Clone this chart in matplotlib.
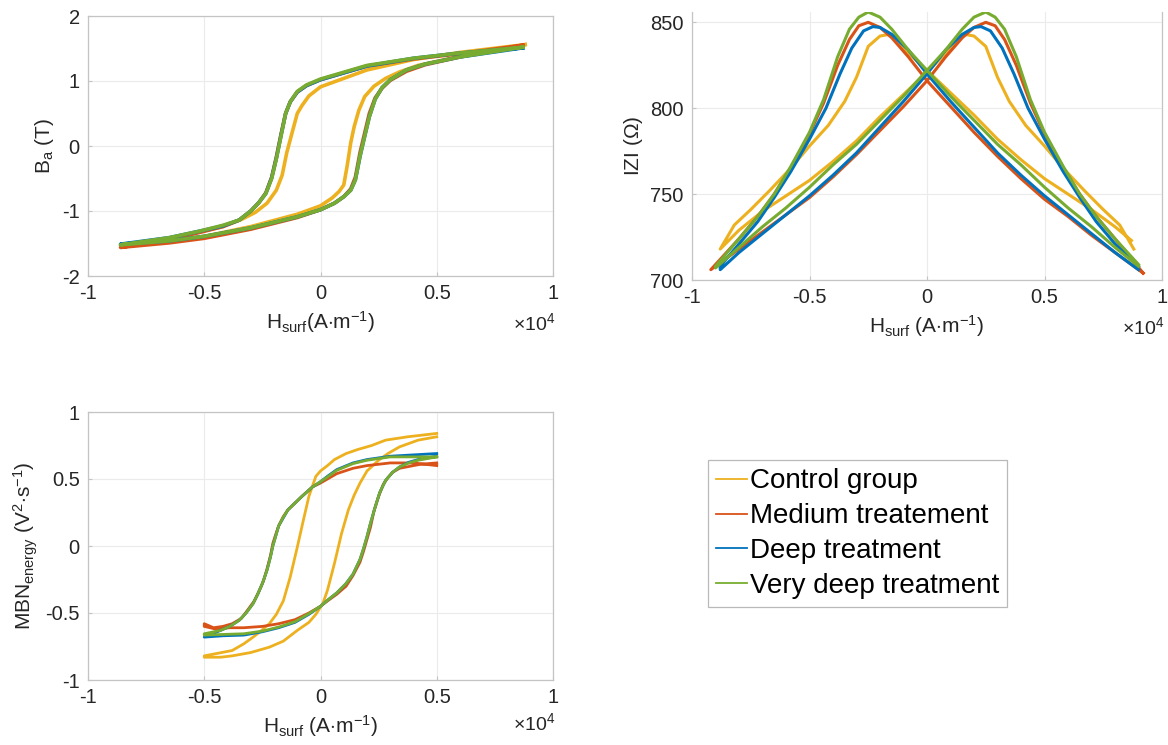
import numpy as np
import matplotlib.pyplot as plt
from matplotlib.ticker import FuncFormatter

plt.rcParams['font.family'] = ['Liberation Sans', 'DejaVu Sans']
plt.rcParams['mathtext.fontset'] = 'custom'
plt.rcParams['mathtext.rm'] = 'Liberation Sans'
plt.rcParams['mathtext.it'] = 'Liberation Sans'

names = ['Control group', 'Medium treatement', 'Deep treatment', 'Very deep treatment']
colors = ['#EDB120', '#D95319', '#0072BD', '#77AC30']

# ---- B(H) hysteresis, H in A/m, B in T ----
bh_ctrl_desc_h = [8800, 6000, 4000, 2000, 0, -500, -800, -1000, -1150, -1300, -1450, -1650, -1900, -2300, -2800, -3400, -4200, -5200, -6500, -8600]
bh_ctrl_desc_b = [1.56, 1.44, 1.33, 1.17, 0.91, 0.77, 0.62, 0.50, 0.30, 0.10, -0.10, -0.45, -0.68, -0.88, -1.02, -1.13, -1.24, -1.32, -1.42, -1.53]
bh_ctrl_asc_h = [-8600, -6500, -5000, -3000, -1000, 0, 500, 800, 1000, 1150, 1300, 1450, 1650, 1900, 2300, 2800, 3400, 4200, 6000, 8800]
bh_ctrl_asc_b = [-1.53, -1.46, -1.39, -1.24, -1.05, -0.92, -0.80, -0.70, -0.60, -0.30, 0.05, 0.30, 0.55, 0.76, 0.92, 1.04, 1.14, 1.24, 1.38, 1.56]

bh_med_desc_h = [8700, 6000, 4000, 2000, 0, -600, -1000, -1300, -1500, -1700, -1900, -2100, -2350, -2650, -3000, -3500, -4200, -5200, -6500, -8600]
bh_med_desc_b = [1.55, 1.42, 1.34, 1.23, 1.02, 0.93, 0.83, 0.68, 0.50, 0.18, -0.17, -0.48, -0.72, -0.87, -1.00, -1.14, -1.24, -1.33, -1.44, -1.56]
bh_med_asc_h = [-8600, -6500, -5000, -3000, -1000, 0, 600, 1000, 1300, 1500, 1700, 1900, 2100, 2350, 2650, 3000, 3700, 4500, 6000, 8700]
bh_med_asc_b = [-1.56, -1.49, -1.42, -1.28, -1.10, -0.98, -0.88, -0.78, -0.66, -0.48, -0.10, 0.20, 0.50, 0.74, 0.89, 1.01, 1.15, 1.25, 1.37, 1.55]

bh_deep_desc_h = [8700, 6000, 4000, 2000, 0, -600, -1000, -1300, -1500, -1700, -1900, -2100, -2350, -2650, -3000, -3500, -4200, -5200, -6500, -8600]
bh_deep_desc_b = [1.51, 1.43, 1.35, 1.23, 1.02, 0.93, 0.83, 0.68, 0.50, 0.16, -0.19, -0.49, -0.73, -0.87, -1.00, -1.14, -1.23, -1.31, -1.41, -1.51]
bh_deep_asc_h = [-8600, -6500, -5000, -3000, -1000, 0, 600, 1000, 1300, 1500, 1700, 1900, 2100, 2350, 2650, 3000, 3700, 4500, 6000, 8700]
bh_deep_asc_b = [-1.51, -1.46, -1.39, -1.26, -1.09, -0.98, -0.88, -0.78, -0.68, -0.52, -0.16, 0.15, 0.45, 0.72, 0.90, 1.02, 1.17, 1.26, 1.37, 1.51]

bh_vdeep_desc_h = [8700, 6000, 4000, 2000, 0, -600, -1000, -1300, -1500, -1700, -1900, -2100, -2350, -2650, -3000, -3500, -4200, -5200, -6500, -8600]
bh_vdeep_desc_b = [1.52, 1.43, 1.35, 1.24, 1.03, 0.94, 0.84, 0.68, 0.50, 0.15, -0.20, -0.50, -0.73, -0.87, -1.00, -1.14, -1.22, -1.31, -1.41, -1.52]
bh_vdeep_asc_h = [-8600, -6500, -5000, -3000, -1000, 0, 600, 1000, 1300, 1500, 1700, 1900, 2100, 2350, 2650, 3000, 3700, 4500, 6000, 8700]
bh_vdeep_asc_b = [-1.52, -1.46, -1.39, -1.26, -1.09, -0.98, -0.88, -0.78, -0.68, -0.52, -0.15, 0.15, 0.45, 0.72, 0.90, 1.02, 1.17, 1.26, 1.37, 1.52]

# ---- |Z|(H), H in A/m, |Z| in ohm ----
z_ctrl_desc_h = [8700, 8000, 7000, 6000, 5000, 4000, 3000, 2000, 1000, 0, -800, -1300, -1600, -2000, -2500, -3000, -3500, -4200, -5000, -5800, -6700, -7500, -8200, -8800]
z_ctrl_desc_z = [723, 731, 741, 750, 759, 770, 782, 796, 809, 822, 832, 840, 843, 842, 836, 818, 804, 790, 778, 765, 752, 741, 732, 718]
z_ctrl_asc_h = [-8800, -8000, -7000, -6000, -5000, -4000, -3000, -2000, -1000, 0, 800, 1300, 1600, 2000, 2500, 3000, 3500, 4200, 5000, 5800, 6700, 7500, 8200, 8800]
z_ctrl_asc_z = [718, 729, 740, 749, 758, 769, 781, 795, 808, 821, 832, 840, 843, 842, 836, 818, 804, 790, 778, 765, 752, 741, 732, 718]

z_med_desc_h = [9200, 8000, 7000, 6000, 5000, 4000, 3000, 2000, 1000, 0, -800, -1500, -2000, -2500, -2900, -3300, -3800, -4400, -5000, -5800, -6500, -7200, -8000, -9200]
z_med_desc_z = [704, 716, 726, 737, 747, 759, 772, 786, 801, 816, 830, 841, 847, 850, 848, 840, 825, 803, 785, 765, 750, 737, 724, 706]
z_med_asc_h = [-9200, -8000, -7000, -6000, -5000, -4000, -3000, -2000, -1000, 0, 800, 1500, 2000, 2500, 2900, 3300, 3800, 4400, 5000, 5800, 6500, 7200, 8000, 9200]
z_med_asc_z = [706, 718, 728, 738, 748, 760, 773, 787, 801, 816, 830, 841, 847, 850, 848, 840, 825, 803, 785, 765, 750, 737, 724, 704]

z_deep_desc_h = [9000, 8000, 7000, 6000, 5000, 4000, 3000, 2000, 1000, 0, -800, -1500, -2000, -2300, -2700, -3200, -3700, -4300, -5000, -5800, -6500, -7200, -8000, -8800]
z_deep_desc_z = [706, 716, 727, 738, 749, 761, 774, 789, 804, 820, 834, 843, 847, 847.5, 845, 835, 820, 800, 782, 763, 748, 734, 721, 708]
z_deep_asc_h = [-8800, -8000, -7000, -6000, -5000, -4000, -3000, -2000, -1000, 0, 800, 1500, 2000, 2300, 2700, 3200, 3700, 4300, 5000, 5800, 6500, 7200, 8000, 9000]
z_deep_asc_z = [706, 716, 727, 738, 749, 761, 774, 789, 804, 820, 834, 843, 847, 847.5, 845, 835, 820, 800, 782, 763, 748, 734, 721, 708]

z_vdeep_desc_h = [9000, 8000, 7000, 6000, 5000, 4000, 3000, 2000, 1000, 0, -800, -1500, -2000, -2500, -2900, -3300, -3800, -4400, -5000, -5800, -6500, -7200, -8000, -9000]
z_vdeep_desc_z = [708, 719, 731, 742, 754, 767, 779, 793, 807, 822, 834, 846, 853, 856, 853, 846, 830, 805, 786, 766, 750, 737, 724, 708]
z_vdeep_asc_h = [-9000, -8000, -7000, -6000, -5000, -4000, -3000, -2000, -1000, 0, 800, 1500, 2000, 2500, 2900, 3300, 3800, 4400, 5000, 5800, 6500, 7200, 8000, 9000]
z_vdeep_asc_z = [707, 719, 731, 742, 754, 767, 779, 793, 807, 822, 834, 846, 853, 856, 853, 846, 830, 805, 786, 766, 750, 737, 724, 709]

# ---- MBN energy(H), H in A/m, MBN in V^2/s ----
mbn_ctrl_desc_h = [5000, 3750, 2800, 2200, 1600, 1100, 600, 300, 0, -200, -500, -740, -1000, -1300, -1600, -1900, -2200, -2600, -2900, -3300, -3800, -4400, -5000]
mbn_ctrl_desc_e = [0.84, 0.815, 0.79, 0.75, 0.72, 0.69, 0.645, 0.60, 0.56, 0.52, 0.37, 0.19, -0.01, -0.23, -0.41, -0.51, -0.58, -0.64, -0.68, -0.73, -0.78, -0.80, -0.82]
mbn_ctrl_asc_h = [-5000, -4300, -3800, -3000, -2200, -1600, -1000, -500, -200, 100, 300, 600, 900, 1200, 1450, 1700, 2000, 2500, 2900, 3400, 4200, 5000]
mbn_ctrl_asc_e = [-0.83, -0.83, -0.82, -0.795, -0.755, -0.71, -0.63, -0.57, -0.51, -0.43, -0.33, -0.13, 0.09, 0.27, 0.38, 0.47, 0.56, 0.64, 0.69, 0.74, 0.79, 0.815]

mbn_med_desc_h = [5000, 4000, 3000, 2000, 1400, 700, 300, 0, -350, -800, -1100, -1400, -1600, -1800, -1900, -2050, -2150, -2300, -2450, -2650, -2850, -3100, -3400, -3800, -4200, -4600, -5000]
mbn_med_desc_e = [0.60, 0.62, 0.62, 0.60, 0.58, 0.54, 0.50, 0.47, 0.44, 0.37, 0.32, 0.27, 0.22, 0.15, 0.10, 0.02, -0.07, -0.17, -0.26, -0.34, -0.41, -0.47, -0.54, -0.58, -0.60, -0.61, -0.58]
mbn_med_asc_h = [-5000, -4500, -3900, -3300, -2500, -1800, -1100, -500, 0, 300, 700, 1100, 1400, 1700, 1850, 2000, 2150, 2300, 2500, 2700, 2900, 3100, 3400, 3700, 4300, 5000]
mbn_med_asc_e = [-0.60, -0.62, -0.61, -0.61, -0.60, -0.58, -0.55, -0.50, -0.45, -0.41, -0.36, -0.30, -0.22, -0.12, -0.04, 0.05, 0.14, 0.26, 0.37, 0.46, 0.51, 0.55, 0.58, 0.59, 0.61, 0.62]

mbn_deep_desc_h = [5000, 4000, 3000, 2000, 1400, 700, 300, 0, -350, -800, -1100, -1400, -1600, -1800, -1900, -2050, -2150, -2300, -2500, -2700, -2900, -3200, -3500, -3900, -4300, -5000]
mbn_deep_desc_e = [0.69, 0.68, 0.67, 0.645, 0.62, 0.57, 0.52, 0.48, 0.44, 0.37, 0.32, 0.27, 0.21, 0.15, 0.09, 0.0, -0.08, -0.18, -0.28, -0.36, -0.43, -0.50, -0.555, -0.60, -0.63, -0.68]
mbn_deep_asc_h = [-5000, -4200, -3300, -2500, -1800, -1100, -500, 0, 300, 700, 1100, 1400, 1700, 1850, 2000, 2150, 2350, 2550, 2800, 3100, 3400, 3800, 4200, 5000]
mbn_deep_asc_e = [-0.68, -0.67, -0.665, -0.64, -0.61, -0.57, -0.51, -0.45, -0.405, -0.35, -0.28, -0.21, -0.10, -0.02, 0.07, 0.17, 0.29, 0.40, 0.49, 0.55, 0.59, 0.625, 0.645, 0.67]

mbn_vdeep_desc_h = [5000, 4000, 3000, 2000, 1400, 700, 300, 0, -350, -800, -1100, -1400, -1600, -1800, -1900, -2050, -2150, -2300, -2500, -2700, -2900, -3200, -3500, -3900, -4300, -5000]
mbn_vdeep_desc_e = [0.665, 0.665, 0.665, 0.64, 0.615, 0.565, 0.515, 0.48, 0.44, 0.37, 0.32, 0.27, 0.215, 0.15, 0.09, 0.0, -0.08, -0.18, -0.28, -0.36, -0.43, -0.50, -0.555, -0.60, -0.63, -0.655]
mbn_vdeep_asc_h = [-5000, -4200, -3300, -2500, -1800, -1100, -500, 0, 300, 700, 1100, 1400, 1700, 1850, 2000, 2150, 2350, 2550, 2800, 3100, 3400, 3800, 4200, 5000]
mbn_vdeep_asc_e = [-0.665, -0.66, -0.655, -0.635, -0.605, -0.565, -0.505, -0.45, -0.405, -0.35, -0.28, -0.21, -0.10, -0.02, 0.07, 0.17, 0.29, 0.40, 0.49, 0.55, 0.59, 0.62, 0.64, 0.665]

bh_loops = [
    (bh_ctrl_desc_h + bh_ctrl_asc_h, bh_ctrl_desc_b + bh_ctrl_asc_b),
    (bh_med_desc_h + bh_med_asc_h, bh_med_desc_b + bh_med_asc_b),
    (bh_deep_desc_h + bh_deep_asc_h, bh_deep_desc_b + bh_deep_asc_b),
    (bh_vdeep_desc_h + bh_vdeep_asc_h, bh_vdeep_desc_b + bh_vdeep_asc_b),
]
z_loops = [
    (z_ctrl_desc_h + z_ctrl_asc_h, z_ctrl_desc_z + z_ctrl_asc_z),
    (z_med_desc_h + z_med_asc_h, z_med_desc_z + z_med_asc_z),
    (z_deep_desc_h + z_deep_asc_h, z_deep_desc_z + z_deep_asc_z),
    (z_vdeep_desc_h + z_vdeep_asc_h, z_vdeep_desc_z + z_vdeep_asc_z),
]
mbn_loops = [
    (mbn_ctrl_desc_h + mbn_ctrl_asc_h, mbn_ctrl_desc_e + mbn_ctrl_asc_e),
    (mbn_med_desc_h + mbn_med_asc_h, mbn_med_desc_e + mbn_med_asc_e),
    (mbn_deep_desc_h + mbn_deep_asc_h, mbn_deep_desc_e + mbn_deep_asc_e),
    (mbn_vdeep_desc_h + mbn_vdeep_asc_h, mbn_vdeep_desc_e + mbn_vdeep_asc_e),
]

W, H = 1168, 745
fig = plt.figure(figsize=(W / 100, H / 100), dpi=100)


def px_axes(left, top, right, bottom):
    return fig.add_axes([left / W, 1 - bottom / H, (right - left) / W, (bottom - top) / H])


def style(ax, ylim, yticks, ylabel, xlabel, off_y):
    ax.set_xlim(-10000, 10000)
    ax.set_xticks([-10000, -5000, 0, 5000, 10000])
    ax.xaxis.set_major_formatter(FuncFormatter(lambda v, p: f'{v / 1e4:g}'))
    ax.set_ylim(*ylim)
    ax.set_yticks(yticks)
    ax.yaxis.set_major_formatter(FuncFormatter(lambda v, p: f'{v:g}'))
    ax.grid(True, color='#ebebeb', lw=0.8)
    ax.set_axisbelow(True)
    for s in ax.spines.values():
        s.set_color('#c4c4c4')
        s.set_linewidth(0.9)
    ax.tick_params(direction='in', length=3, color='#c4c4c4', labelsize=14.5,
                   labelcolor='#262626', pad=6)
    ax.set_ylabel(ylabel, fontsize=15, color='#262626', labelpad=4)
    ax.set_xlabel(xlabel, fontsize=15, color='#262626', labelpad=4)
    ax.text(1.005, off_y, r'$\times$10$^4$', transform=ax.transAxes, ha='right',
            va='center', fontsize=14, color='#262626')


hlabel = r'H$_{\mathrm{surf}}$(A$\cdot$m$^{\mathrm{-1}}$)'
hlabel2 = r'H$_{\mathrm{surf}}$ (A$\cdot$m$^{\mathrm{-1}}$)'

ax1 = px_axes(88, 16, 553, 276)
handles = []
for (hx, by), c in zip(bh_loops, colors):
    ln, = ax1.plot(hx, by, color=c, lw=2.6, solid_joinstyle='round')
    handles.append(ln)
style(ax1, (-2, 2), [-2, -1, 0, 1, 2], r'B$_{\mathrm{a}}$ (T)', hlabel, -0.18)

ax2 = px_axes(692, 12, 1162, 280)
for (hx, zy), c in zip(z_loops, colors):
    ax2.plot(hx, zy, color=c, lw=2.2, solid_joinstyle='round')
style(ax2, (700, 856), [700, 750, 800, 850], r'IZI ($\Omega$)', hlabel2, -0.175)
ax2.spines['top'].set_visible(False)

ax3 = px_axes(88, 412, 553, 680)
for (hx, ey), c in zip(mbn_loops, colors):
    ax3.plot(hx, ey, color=c, lw=2.0, solid_joinstyle='round')
style(ax3, (-1, 1), [-1, -0.5, 0, 0.5, 1],
      r'MBN$_{\mathrm{energy}}$ (V$^{\mathrm{2}}$$\cdot$s$^{\mathrm{-1}}$)', hlabel2, -0.16)

leg = fig.legend(handles, names, loc='upper left', bbox_to_anchor=(708 / W, 1 - 460 / H),
                 fontsize=20, frameon=True, fancybox=False, edgecolor='#a8a8a8',
                 handlelength=1.1, handletextpad=0.1, borderpad=0.3,
                 labelspacing=0.32, borderaxespad=0)
leg.get_frame().set_linewidth(0.9)
for ln in leg.get_lines():
    ln.set_linewidth(1.3)

fig.savefig('out.png', dpi=100)
